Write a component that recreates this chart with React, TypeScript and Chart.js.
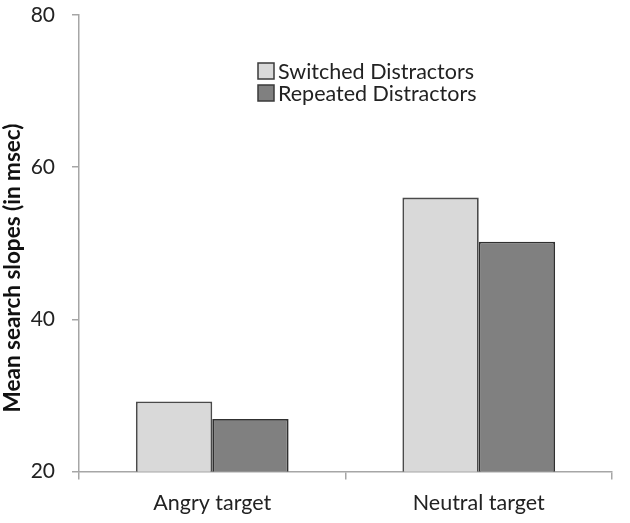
import React, { useEffect, useRef } from "react";
import { Chart, registerables } from "chart.js";

Chart.register(...registerables);

const categories = ["Angry target", "Neutral target"];
const seriesNames = ["Switched Distractors", "Repeated Distractors"];
const switchedValues = [29.2, 56.0];
const repeatedValues = [26.9, 50.2];
const yTicks = [20, 40, 60, 80];
const yTitle = "Mean search slopes (in msec)";

const FONT = "Lato, 'Open Sans', sans-serif";

const legendPlugin = {
  id: "insideLegend",
  afterDraw(chart: any) {
    const ctx = chart.ctx;
    const ds = chart.data.datasets;
    ctx.save();
    ctx.font = `21.5px ${FONT}`;
    ctx.textBaseline = "middle";
    ctx.textAlign = "left";
    const x0 = 258;
    const y0 = 71;
    const rowH = 22;
    const box = 16;
    ds.forEach((d: any, i: number) => {
      const cy = y0 + i * rowH;
      ctx.fillStyle = d.backgroundColor;
      ctx.fillRect(x0, cy - box / 2, box, box);
      ctx.lineWidth = 1.5;
      ctx.strokeStyle = "#3a3a3a";
      ctx.strokeRect(x0, cy - box / 2, box, box);
      ctx.fillStyle = "#222";
      ctx.fillText(d.label, x0 + 20, cy + 1);
    });
    ctx.restore();
  },
};

const yTitlePlugin = {
  id: "yTitle",
  afterDraw(chart: any) {
    const ctx = chart.ctx;
    ctx.save();
    ctx.translate(13, 268);
    ctx.rotate(-Math.PI / 2);
    ctx.font = `bold 22.5px ${FONT}`;
    ctx.fillStyle = "#111";
    ctx.textAlign = "center";
    ctx.textBaseline = "middle";
    ctx.fillText(yTitle, 0, 0);
    ctx.restore();
  },
};

export default function App() {
  const ref = useRef<HTMLCanvasElement>(null);
  useEffect(() => {
    if (!ref.current) return;
    const chart = new Chart(ref.current, {
      type: "bar",
      data: {
        labels: categories,
        datasets: [
          {
            label: seriesNames[0],
            data: switchedValues,
            backgroundColor: "#d9d9d9",
            borderColor: "#4a4a4a",
            borderWidth: 1.8,
            borderSkipped: false,
          },
          {
            label: seriesNames[1],
            data: repeatedValues,
            backgroundColor: "#808080",
            borderColor: "#303030",
            borderWidth: 1.8,
            borderSkipped: false,
          },
        ],
      },
      options: {
        animation: false,
        responsive: true,
        maintainAspectRatio: false,
        layout: { padding: { top: 15, right: 18, bottom: 0, left: 0 } },
        datasets: {
          bar: { barPercentage: 1, categoryPercentage: 0.573 },
        },
        plugins: {
          legend: { display: false },
          tooltip: { enabled: false },
        },
        scales: {
          x: {
            grid: {
              display: true,
              drawOnChartArea: false,
              tickLength: 8,
              color: "#a6a6a6",
              lineWidth: 1.5,
            },
            border: { color: "#a6a6a6", width: 1.5 },
            ticks: {
              color: "#222",
              font: { family: FONT, size: 21.5 },
              padding: 11,
            },
            afterFit: (s: any) => {
              s.height = 51.5;
            },
          },
          y: {
            min: 20,
            max: 80,
            afterBuildTicks: (s: any) => {
              s.ticks = yTicks.map((v) => ({ value: v }));
            },
            grid: {
              display: true,
              drawOnChartArea: false,
              tickLength: 7,
              color: "#a6a6a6",
              lineWidth: 1.5,
            },
            border: { color: "#a6a6a6", width: 1.5 },
            ticks: {
              color: "#222",
              font: { family: FONT, size: 21 },
              padding: 17,
            },
            title: { display: false },
            afterFit: (s: any) => {
              s.width = 79;
              s.paddingTop = 0;
              s.paddingBottom = 0;
            },
          },
        },
      },
      plugins: [legendPlugin, yTitlePlugin],
    });
    return () => chart.destroy();
  }, []);
  return (
    <div style={{ position: "fixed", left: 0, top: 0, width: 630, height: 523, background: "#fff" }}>
      <canvas ref={ref} />
    </div>
  );
}
